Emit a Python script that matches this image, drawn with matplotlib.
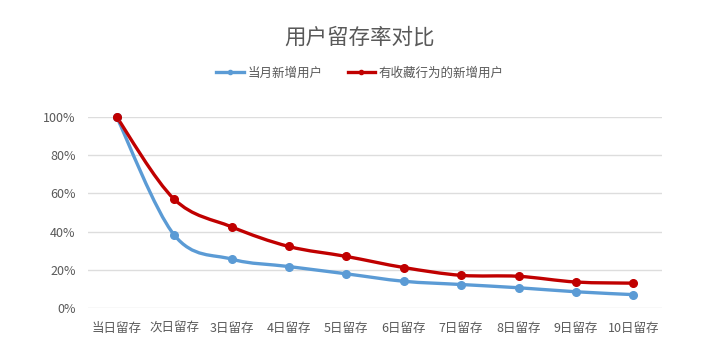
import matplotlib
matplotlib.use("Agg")
import matplotlib.pyplot as plt
from matplotlib.path import Path
from matplotlib.patches import PathPatch
from matplotlib.lines import Line2D
from matplotlib.ticker import FuncFormatter
import numpy as np

plt.rcParams["font.family"] = ["Noto Sans CJK SC", "DejaVu Sans"]

CATEGORIES = ["当日留存", "次日留存", "3日留存", "4日留存", "5日留存",
              "6日留存", "7日留存", "8日留存", "9日留存", "10日留存"]
MONTH_NEW = [1.00, 0.383, 0.256, 0.217, 0.179, 0.140, 0.123, 0.106, 0.085, 0.070]
FAV_NEW = [1.00, 0.570, 0.425, 0.322, 0.270, 0.212, 0.171, 0.166, 0.136, 0.130]
SERIES_NAMES = ["当月新增用户", "有收藏行为的新增用户"]
COLORS = ["#5B9BD5", "#C00000"]
TEXT_GRAY = "#595959"


def smoothPath(xs, ys):
	pts = np.column_stack([xs, ys]).astype(float)
	verts = [pts[0]]
	codes = [Path.MOVETO]
	n = len(pts)
	for i in range(n - 1):
		p0 = pts[i - 1] if i > 0 else pts[i]
		p1 = pts[i]
		p2 = pts[i + 1]
		p3 = pts[i + 2] if i + 2 < n else pts[i + 1]
		c1 = p1 + (p2 - p0) / 6
		c2 = p2 - (p3 - p1) / 6
		verts.extend([c1, c2, p2])
		codes.extend([Path.CURVE4] * 3)
	return Path(verts, codes)


def main():
	fig = plt.figure(figsize=(7.2, 3.6), dpi=100)
	ax = fig.add_axes([88 / 720, 1 - 308 / 360, 574 / 720, 191 / 360])

	x = np.arange(len(CATEGORIES))
	for values, color in zip([MONTH_NEW, FAV_NEW], COLORS):
		patch = PathPatch(smoothPath(x, values), facecolor="none", edgecolor=color,
						  linewidth=2.4, capstyle="round", joinstyle="round", zorder=3)
		patch.set_clip_on(False)
		ax.add_patch(patch)
		ax.plot(x, values, linestyle="none", marker="o", markersize=5.5,
				color=color, zorder=4, clip_on=False)

	ax.set_xlim(-0.5, len(CATEGORIES) - 0.5)
	ax.set_ylim(0, 1)
	ax.set_yticks(np.arange(0, 1.01, 0.2))
	ax.yaxis.set_major_formatter(FuncFormatter(lambda v, _: f"{v * 100:.0f}%"))
	ax.set_xticks(x)
	ax.set_xticklabels(CATEGORIES)
	ax.grid(True, axis="y", color="#DDDDDD", linewidth=1)
	ax.set_axisbelow(True)
	for side in ["top", "right", "left", "bottom"]:
		ax.spines[side].set_visible(False)
	ax.tick_params(axis="both", length=0, labelsize=9, colors=TEXT_GRAY)
	ax.tick_params(axis="x", pad=10)
	ax.tick_params(axis="y", pad=9)

	fig.text(0.5, 1 - 38 / 360, "用户留存率对比", ha="center", va="center",
			 fontsize=15.5, color=TEXT_GRAY)

	handles = [Line2D([0], [0], color=c, linewidth=2.4, marker="o", markersize=3)
			   for c in COLORS]
	fig.legend(handles, SERIES_NAMES, loc="center", bbox_to_anchor=(0.5, 1 - 73 / 360),
			   ncol=2, frameon=False, fontsize=9, labelcolor=TEXT_GRAY,
			   handlelength=2.2, handletextpad=0.3, columnspacing=2.0)

	fig.savefig("out.png", dpi=100)
	plt.close(fig)


if __name__ == "__main__":
	main()
